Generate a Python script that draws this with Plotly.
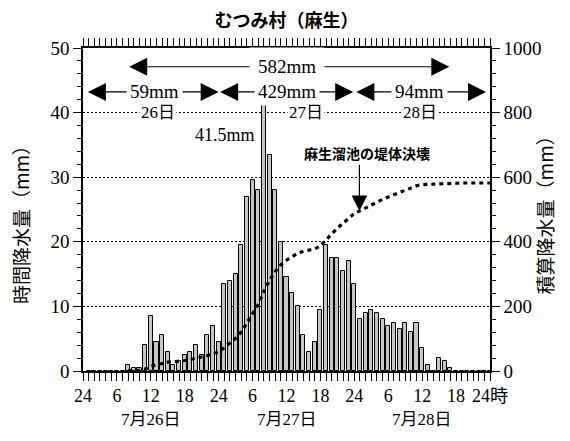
import plotly.graph_objects as go
import numpy as np

# Hourly rainfall (mm) at Mutsumi village (Aso), hours 1..24 of each day
rain_26 = [0, 0, 0, 0, 0, 0, 0, 1, 0.5, 0.5, 4, 8.5,
           4.5, 5.5, 3, 1, 1.5, 2.5, 3, 4, 2.5, 5.5, 7, 4.5]
rain_27 = [13.5, 14, 15, 19.5, 27, 29.5, 28, 41.5, 33.5, 28, 20, 14.5,
           12, 10, 5.5, 3, 4.5, 9.5, 19.5, 17.5, 17.5, 15.5, 17, 13.5]
rain_28 = [8, 9, 9.5, 9, 8, 7, 7.5, 6.5, 7.5, 6, 7.5, 3.5,
           1, 0, 2, 1.5, 0.5, 0, 0, 0, 0, 0, 0, 0]

day_totals = ["59mm", "429mm", "94mm"]
grand_total = "582mm"
peak_label = "41.5mm"
day_names = ["26日", "27日", "28日"]
date_labels = ["7月26日", "7月27日", "7月28日"]
tick_hours = [0, 6, 12, 18, 24, 30, 36, 42, 48, 54, 60, 66, 72]
tick_text = ["24", "6", "12", "18", "24", "6", "12", "18", "24", "6", "12", "18", "24時"]

rain = np.array(rain_26 + rain_27 + rain_28)
hours = np.arange(1, len(rain) + 1)
cum = np.cumsum(rain)
started = cum > 0

SERIF = "'Liberation Serif', 'Noto Sans CJK JP', serif"
CJK = "'Noto Sans CJK JP', sans-serif"

fig = go.Figure()
fig.add_trace(go.Bar(
    x=hours, y=rain, width=0.72, yaxis="y",
    marker=dict(color="#c6c6c6", line=dict(color="black", width=1)),
    showlegend=False,
))
fig.add_trace(go.Scatter(
    x=hours[started], y=cum[started], yaxis="y2", mode="lines",
    line=dict(color="black", width=3.2, dash="4px,4px"),
    showlegend=False,
))

ann = []
# total-rain arrows (double headed) and their labels
def span_arrow(x0, x1, y, label, xt, pad=3):
    ann.append(dict(x=x1, y=y, ax=x0, ay=y, xref="x", yref="y", axref="x", ayref="y",
                    text="", showarrow=True, arrowhead=2, startarrowhead=2,
                    arrowside="end+start", arrowsize=3, startarrowsize=3,
                    arrowwidth=1.2, arrowcolor="black"))
    ann.append(dict(x=xt, y=y, xref="x", yref="y", text=label, showarrow=False,
                    bgcolor="white", borderpad=pad,
                    font=dict(family=SERIF, size=19, color="black")))

span_arrow(7.9, 64.8, 47.1, grand_total, 36.1, pad=8)
span_arrow(0.6, 24.0, 43.2, day_totals[0], 12.7)
span_arrow(24.0, 47.8, 43.2, day_totals[1], 36.0)
span_arrow(48.1, 71.3, 43.2, day_totals[2], 59.5)

# day names sitting on the 40 mm grid line
for name, xh in zip(day_names, [13.2, 39.5, 59.6]):
    ann.append(dict(x=xh, y=40, xref="x", yref="y", text=name, showarrow=False,
                    bgcolor="white", borderpad=1,
                    font=dict(family=SERIF, size=17, color="black")))

# peak label
ann.append(dict(x=30.8, y=36.5, xref="x", yref="y", text=peak_label, showarrow=False,
                xanchor="right", font=dict(family=SERIF, size=18, color="black")))

# dam failure marker
break_hour = 48.9
ann.append(dict(x=break_hour, y=float(np.interp(break_hour, hours, cum)), xref="x", yref="y2",
                ax=break_hour, ay=643, axref="x", ayref="y2", text="", showarrow=True,
                arrowhead=2, arrowsize=2.6, arrowwidth=1.2, arrowcolor="black"))
ann.append(dict(x=50.3, y=674, xref="x", yref="y2", text="<b>麻生溜池の堤体決壊</b>",
                showarrow=False, font=dict(family=CJK, size=14, color="black")))

# date labels under the hour ticks
for d, xh in zip(date_labels, [12, 36, 60]):
    ann.append(dict(x=xh, y=-0.186, xref="x", yref="paper", text=d, showarrow=False,
                    font=dict(family=SERIF, size=17, color="black")))

# axis titles
ann.append(dict(x=-0.155, y=0.467, xref="paper", yref="paper", text="時間降水量（mm）",
                xanchor="center", yanchor="middle", textangle=-90, showarrow=False,
                font=dict(family=CJK, size=19, color="black")))
ann.append(dict(x=1.135, y=0.497, xref="paper", yref="paper", text="積算降水量（mm）",
                xanchor="center", yanchor="middle", textangle=-90, showarrow=False,
                font=dict(family=CJK, size=19, color="black")))

axis_common = dict(showline=True, linecolor="black", linewidth=1.5, ticks="outside",
                   ticklen=8, tickwidth=1.3, tickcolor="black", zeroline=False)

fig.update_layout(
    width=570, height=441,
    margin=dict(l=83, r=80, t=48, b=70),
    paper_bgcolor="white", plot_bgcolor="white",
    title=dict(text="<b>むつみ村（麻生）</b>", x=0.5026, y=0.954, xanchor="center", yanchor="middle",
               font=dict(family=CJK, size=18, color="black")),
    bargap=0,
    xaxis=dict(range=[0, 72], tickvals=tick_hours, ticktext=tick_text, mirror="allticks",
               showgrid=False, tickfont=dict(family=SERIF, size=18, color="black"),
               minor=dict(dtick=1, tick0=0, ticks="outside", ticklen=4, tickwidth=1,
                          tickcolor="black", showgrid=False),
               **axis_common),
    yaxis=dict(range=[0, 50], tickvals=[0, 10, 20, 30, 40, 50], showgrid=True,
               gridcolor="black", gridwidth=1, griddash="2px,2px",
               tickfont=dict(family=SERIF, size=19, color="black"),
               minor=dict(dtick=2, ticks="outside", ticklen=4, tickwidth=1,
                          tickcolor="black", showgrid=False),
               **axis_common),
    yaxis2=dict(range=[0, 1000], tickvals=[0, 200, 400, 600, 800, 1000], overlaying="y",
                side="right", showgrid=False,
                tickfont=dict(family=SERIF, size=19, color="black"),
                minor=dict(dtick=40, ticks="outside", ticklen=4, tickwidth=1,
                           tickcolor="black", showgrid=False),
                **axis_common),
    annotations=ann,
)

fig.write_html("out.html")
